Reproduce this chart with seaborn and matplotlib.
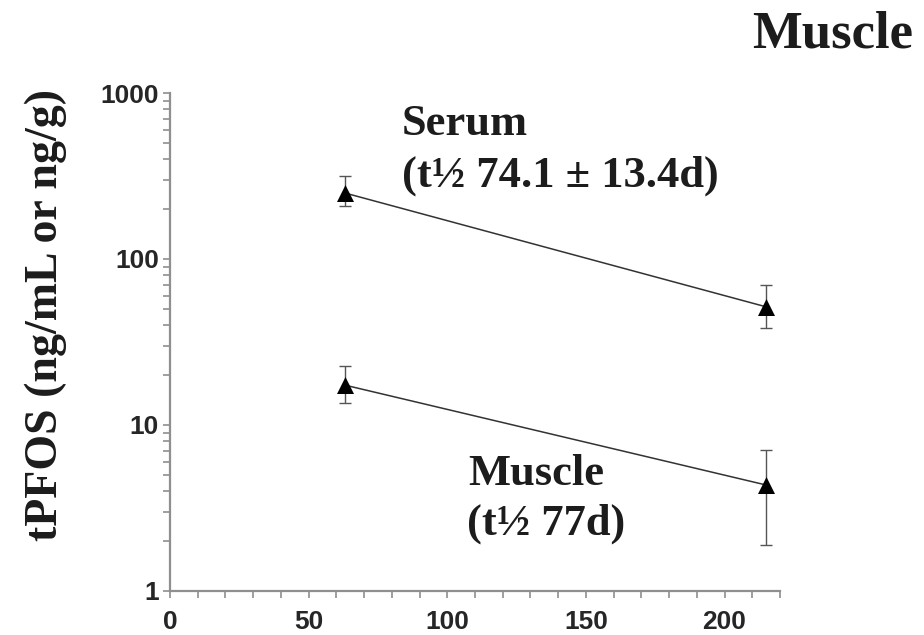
import numpy as np
import pandas as pd
import matplotlib
matplotlib.use("Agg")
import matplotlib.pyplot as plt
from matplotlib.ticker import LogLocator, FixedLocator, NullFormatter, FuncFormatter
import seaborn as sns

# ---- data ----
days = [63, 215]
serum = [250, 51.5]
serum_err_low = [208, 38.4]
serum_err_high = [316, 69.7]
muscle = [17.4, 4.35]
muscle_err_low = [13.6, 1.89]
muscle_err_high = [22.7, 7.07]
x_ticks = [0, 50, 100, 150, 200]
y_ticks = [1, 10, 100, 1000]

df = pd.DataFrame({
    "day": days + days,
    "conc": serum + muscle,
    "series": ["Serum"] * 2 + ["Muscle"] * 2,
})

sns.set_style("ticks")
fig = plt.figure(figsize=(9.24, 6.35), dpi=100)
ax = fig.add_axes([170 / 924, 1 - 591 / 635, (780 - 170) / 924, (591 - 93) / 635])

grey = "#8f8f8f"
ink = "#1c1c1c"

# error bars
for vals, lo, hi in [(serum, serum_err_low, serum_err_high),
                     (muscle, muscle_err_low, muscle_err_high)]:
    v = np.array(vals)
    yerr = [v - np.array(lo), np.array(hi) - v]
    ax.errorbar(days, v, yerr=yerr, fmt="none", ecolor="#555555",
                elinewidth=1.0, capsize=4.5, capthick=1.0, zorder=2)

sns.lineplot(data=df, x="day", y="conc", hue="series",
             palette={"Serum": "#333333", "Muscle": "#333333"},
             linewidth=1.1, legend=False, ax=ax, zorder=3)
sns.scatterplot(data=df, x="day", y="conc", marker="^", color="black",
                s=150, edgecolor="black", linewidth=0, ax=ax, zorder=4)

ax.set_yscale("log")
ax.set_xlim(0, 220)
ax.set_ylim(1, 1000)

ax.xaxis.set_major_locator(FixedLocator(x_ticks))
ax.xaxis.set_minor_locator(FixedLocator(np.arange(0, 221, 10)))
ax.yaxis.set_major_locator(FixedLocator(y_ticks))
ax.yaxis.set_minor_locator(LogLocator(base=10, subs=np.arange(2, 10)))
ax.yaxis.set_minor_formatter(NullFormatter())
ax.yaxis.set_major_formatter(FuncFormatter(lambda v, p: f"{int(v)}"))

for s in ["top", "right"]:
    ax.spines[s].set_visible(False)
for s in ["left", "bottom"]:
    ax.spines[s].set_color(grey)
    ax.spines[s].set_linewidth(1.6)

ax.tick_params(axis="both", which="both", color=grey, width=1.2, direction="out")
ax.tick_params(axis="both", which="major", length=5, labelsize=19, labelcolor="#262626")
ax.tick_params(axis="both", which="minor", length=5)
ax.tick_params(axis="x", which="major", pad=9)
ax.tick_params(axis="y", which="major", pad=3)
for lab in ax.get_xticklabels() + ax.get_yticklabels():
    lab.set_fontfamily("Liberation Sans")
    lab.set_fontweight("bold")

ax.set_xlabel("")
ax.set_ylabel("")

serif = dict(family="Liberation Serif", weight="bold", color=ink)
fig.text(46 / 924, 1 - 315 / 635, "tPFOS (ng/mL or ng/g)", rotation=90,
         ha="center", va="center", size=33, **serif)
fig.text(913 / 924, 1 - 48 / 635, "Muscle", ha="right", va="baseline", size=38, **serif)
fig.text(402 / 924, 1 - 135 / 635, "Serum", ha="left", va="baseline", size=32, **serif)
fig.text(402 / 924, 1 - 187 / 635, "(t½ 74.1 ± 13.4d)", ha="left", va="baseline", size=32, **serif)
fig.text(468 / 924, 1 - 485 / 635, "Muscle", ha="left", va="baseline", size=32, **serif)
fig.text(467 / 924, 1 - 535 / 635, "(t½ 77d)", ha="left", va="baseline", size=32, **serif)

fig.savefig("out.png", dpi=100)
